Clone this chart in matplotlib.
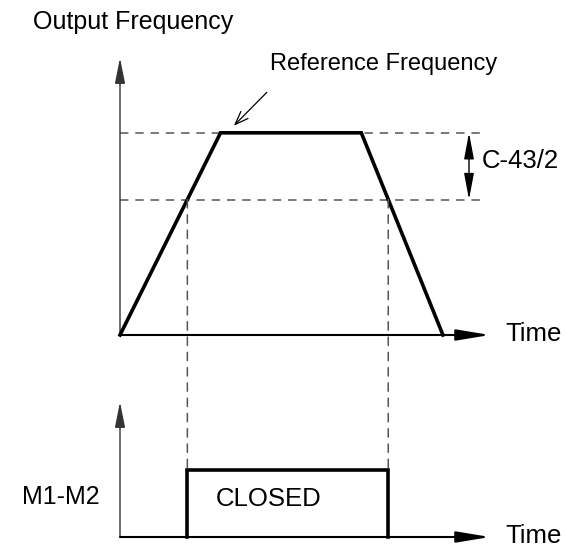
import matplotlib
matplotlib.use("Agg")
import matplotlib.pyplot as plt
from matplotlib.patches import ConnectionPatch

plt.rcParams['font.family'] = ['Liberation Sans', 'DejaVu Sans']

# --- data ---
time_pts = [0.0, 2.5, 6.0, 8.03]        # accel start, reach ref, decel start, stop
freq_pts = [0.0, 100.0, 100.0, 0.0]     # output frequency (% of reference)
ref_freq = 100.0
threshold = 67.0                         # reference - C-43/2
relay_state = 1.0                        # CLOSED level
labels = {
    "yaxis": "Output Frequency",
    "ref": "Reference Frequency",
    "band": "C-43/2",
    "time": "Time",
    "relay": "M1-M2",
    "closed": "CLOSED",
}

# crossing times of threshold
t_on = time_pts[0] + (time_pts[1] - time_pts[0]) * threshold / ref_freq
t_off = time_pts[2] + (time_pts[3] - time_pts[2]) * (ref_freq - threshold) / ref_freq

W, H = 565, 549
fig = plt.figure(figsize=(W / 100, H / 100), dpi=100)

def px_axes(x0, y0, x1, y1):
    # pixel box (top-left origin) -> figure fraction axes
    return fig.add_axes([x0 / W, 1 - y1 / H, (x1 - x0) / W, (y1 - y0) / H])

XMAX = 9.2
ax1 = px_axes(120, 58, 490, 335)
ax1.set_xlim(0, XMAX)
ax1.set_ylim(0, 137)
ax2 = px_axes(120, 402, 490, 537)
ax2.set_xlim(0, XMAX)
ax2.set_ylim(0, 2.0)
for ax in (ax1, ax2):
    ax.axis('off')

dash = (0, (5.5, 4.5))
gray = '#555555'

def draw_axes(ax, ytop):
    ax.annotate('', xy=(0, ytop), xytext=(0, 0),
                arrowprops=dict(arrowstyle='-|>,head_length=1.3,head_width=0.26',
                                color='#333333', lw=1.0, mutation_scale=12,
                                shrinkA=0, shrinkB=0), annotation_clip=False)
    ax.annotate('', xy=(XMAX, 0), xytext=(0, 0),
                arrowprops=dict(arrowstyle='-|>,head_length=1.7,head_width=0.28',
                                color='black', lw=1.5, mutation_scale=12,
                                shrinkA=0, shrinkB=0), annotation_clip=False)

draw_axes(ax1, 137)
draw_axes(ax2, 2.0)

# trapezoid
ax1.plot(time_pts, freq_pts, color='black', lw=2.6, solid_joinstyle='miter',
         clip_on=False, zorder=5)

# horizontal dashed lines
xd_end = (483 - 120) / 370 * XMAX
ax1.plot([0, xd_end], [ref_freq, ref_freq], color=gray, lw=1.1, ls=dash, clip_on=False)
ax1.plot([0, xd_end], [threshold, threshold], color=gray, lw=1.1, ls=dash, clip_on=False)

# double arrow for band
xb = (469 - 120) / 370 * XMAX
ax1.annotate('', xy=(xb, ref_freq), xytext=(xb, threshold),
             arrowprops=dict(arrowstyle='<|-|>,head_length=1.6,head_width=0.3',
                             color='black', lw=1.0, mutation_scale=10,
                             shrinkA=0, shrinkB=0), annotation_clip=False)
ax1.text((482 - 120) / 370 * XMAX, 86.0, labels["band"],
         fontsize=18.5, va='center', ha='left', clip_on=False)

# reference frequency pointer
ax1.annotate('', xy=(2.83, ref_freq + 3.5), xytext=(3.65, ref_freq + 20),
             arrowprops=dict(arrowstyle='->,head_length=0.8,head_width=0.3',
                             color='black', lw=0.9, mutation_scale=12,
                             shrinkA=0, shrinkB=0), annotation_clip=False)
ax1.text(3.73, 134.0, labels["ref"], fontsize=17, va='center', ha='left')

# titles / labels
fig.text(33 / W, 1 - 22 / H, labels["yaxis"], fontsize=18, va='center', ha='left')
ax1.text(XMAX + 0.38, 0.7, labels["time"], fontsize=18.5, va='center', ha='left')
ax2.text(XMAX + 0.38, 0.02, labels["time"], fontsize=18.5, va='center', ha='left')
fig.text(100 / W, 1 - 497 / H, labels["relay"], fontsize=18, va='center', ha='right')

# relay pulse
ax2.plot([t_on, t_on, t_off, t_off], [0, relay_state, relay_state, 0],
         color='black', lw=2.6, solid_joinstyle='miter', clip_on=False, zorder=5)
ax2.text(t_on + 0.7, relay_state * 0.56, labels["closed"], fontsize=18.5,
         va='center', ha='left')

# vertical dashed connectors
for tc in (t_on, t_off):
    con = ConnectionPatch(xyA=(tc, threshold), coordsA=ax1.transData,
                          xyB=(tc, relay_state), coordsB=ax2.transData,
                          color=gray, lw=1.1, linestyle=dash)
    fig.add_artist(con)

fig.savefig('out.png', dpi=100)
